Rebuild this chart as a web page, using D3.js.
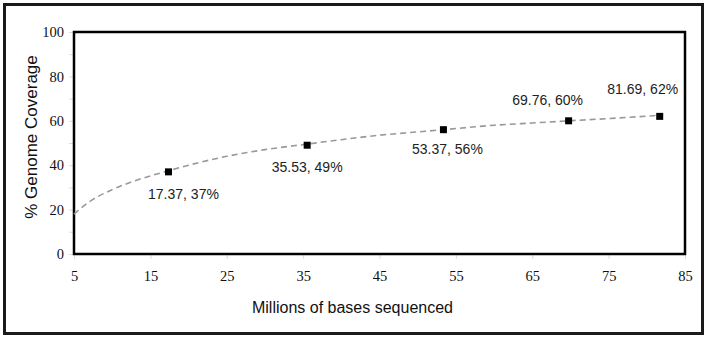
<!DOCTYPE html>
<html><head><meta charset="utf-8">
<script src="https://cdn.jsdelivr.net/npm/d3@7"></script>
<style>body{margin:0;background:#fff;}svg{display:block;}</style>
</head><body>
<script>
const xValues = [17.37, 35.53, 53.37, 69.76, 81.69];
const yValues = [37, 49, 56, 60, 62];
const pointLabels = ["17.37, 37%", "35.53, 49%", "53.37, 56%", "69.76, 60%", "81.69, 62%"];
const trendX = [5, 7, 10, 13, 17.37, 20, 25, 30, 35.53, 40, 45, 50, 53.37, 60, 65, 69.76, 75, 81.69];
const trendY = [18, 23.5, 29, 33, 37.5, 40, 44, 47, 49.5, 51.5, 53.5, 55, 56, 58, 59, 60, 61, 62.5];
const xTicks = [5, 15, 25, 35, 45, 55, 65, 75, 85];
const yTicks = [0, 20, 40, 60, 80, 100];

const W = 709, H = 339;
const svg = d3.select("body").append("svg").attr("width", W).attr("height", H);
svg.append("rect").attr("x", 4.5).attr("y", 4.5).attr("width", 698).attr("height", 329)
  .attr("fill", "#fff").attr("stroke", "#1a1a1a").attr("stroke-width", 3);

const L = 74, R = 685, T = 32, B = 254;
const x = d3.scaleLinear().domain([5, 85]).range([L, R]);
const y = d3.scaleLinear().domain([0, 100]).range([B, T]);

// faint minor ticks
const g = svg.append("g");
g.append("g").attr("transform", `translate(${L},0)`)
  .call(d3.axisLeft(y).tickValues(d3.range(0, 101, 10)).tickSize(5).tickFormat(""))
  .call(s => { s.select(".domain").remove(); s.selectAll("line").attr("stroke", "#ddd"); });
g.append("g").attr("transform", `translate(0,${B})`)
  .call(d3.axisBottom(x).tickValues(xTicks).tickSize(5).tickFormat(""))
  .call(s => { s.select(".domain").remove(); s.selectAll("line").attr("stroke", "#ddd"); });

// tick labels
g.append("g").attr("transform", `translate(${L - 10},0)`)
  .call(d3.axisLeft(y).tickValues(yTicks).tickSize(0).tickPadding(0).tickFormat(d3.format("d")))
  .call(s => { s.select(".domain").remove();
    s.selectAll("text").attr("font-family", "Liberation Serif, Times New Roman, serif")
      .attr("font-size", 14.5).attr("fill", "#111"); });
g.append("g").attr("transform", `translate(0,${B + 17})`)
  .call(d3.axisBottom(x).tickValues(xTicks).tickSize(0).tickPadding(0).tickFormat(d3.format("d")))
  .call(s => { s.select(".domain").remove();
    s.selectAll("text").attr("font-family", "Liberation Serif, Times New Roman, serif")
      .attr("font-size", 14.5).attr("fill", "#111"); });

// plot border
svg.append("rect").attr("x", L).attr("y", T).attr("width", R - L).attr("height", B - T)
  .attr("fill", "none").attr("stroke", "#000").attr("stroke-width", 2.5);

// trend line
const trend = trendX.map((d, i) => [d, trendY[i]]);
svg.append("path").datum(trend)
  .attr("d", d3.line().x(d => x(d[0])).y(d => y(d[1])).curve(d3.curveMonotoneX))
  .attr("fill", "none").attr("stroke", "#999").attr("stroke-width", 1.6)
  .attr("stroke-dasharray", "6,4");

// points
const pts = xValues.map((d, i) => ({ x: d, y: yValues[i], label: pointLabels[i] }));
svg.selectAll("rect.pt").data(pts).enter().append("rect").attr("class", "pt")
  .attr("x", d => x(d.x) - 3.5).attr("y", d => y(d.y) - 3.5)
  .attr("width", 7).attr("height", 7).attr("fill", "#000");

const offs = [[15, 27], [0, 27], [4, 24], [-21, -16], [-17, -22]];
svg.selectAll("text.lbl").data(pts).enter().append("text").attr("class", "lbl")
  .attr("x", (d, i) => x(d.x) + offs[i][0]).attr("y", (d, i) => y(d.y) + offs[i][1])
  .attr("text-anchor", "middle").attr("font-family", "Liberation Sans, Arial, sans-serif")
  .attr("font-size", 14).attr("fill", "#222").text(d => d.label);

// axis titles
svg.append("text").attr("x", (L + R) / 2 - 27).attr("y", 313).attr("text-anchor", "middle")
  .attr("font-family", "Liberation Sans, Arial, sans-serif").attr("font-size", 16)
  .attr("fill", "#111").text("Millions of bases sequenced");
svg.append("text").attr("transform", `translate(37,137) rotate(-90)`)
  .attr("text-anchor", "middle").attr("font-family", "Liberation Sans, Arial, sans-serif")
  .attr("font-size", 17).attr("fill", "#111").text("% Genome Coverage");
</script>
</body></html>
